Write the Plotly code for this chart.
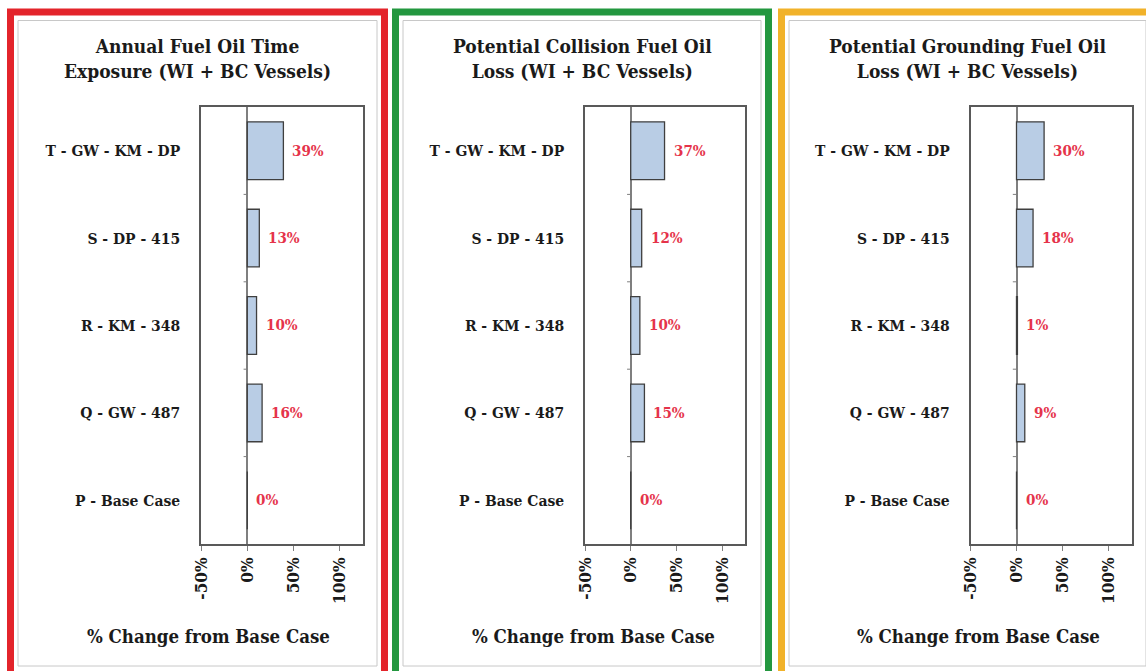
import plotly.graph_objects as go

categories = ["P - Base Case", "Q - GW - 487", "R - KM - 348", "S - DP - 415", "T - GW - KM - DP"]
exposure = [0, 16, 10, 13, 39]
collision = [0, 15, 10, 12, 37]
grounding = [0, 9, 1, 18, 30]
titles = ["Annual Fuel Oil Time<br>Exposure (WI + BC Vessels)",
          "Potential Collision Fuel Oil<br>Loss (WI + BC Vessels)",
          "Potential Grounding Fuel Oil<br>Loss (WI + BC Vessels)"]
x_title = "% Change from Base Case"
x_ticks = [-50, 0, 50, 100]
x_ticktext = ["-50%", "0%", "50%", "100%"]

W, H = 1146, 671
FONT = "DejaVu Serif Condensed, DejaVu Serif, serif"

def px(v):
    return v / W

def py(v):
    return 1 - v / H

series = [exposure, collision, grounding]
plot_x = [(201, 363), (585, 745), (970.5, 1131.5)]
panel_x = [(7, 388), (392, 772), (778, 1157)]
panel_colors = ["#e3242b", "#23973f", "#f1b22a"]
y_dom = [py(544), py(107)]

fig = go.Figure()
shapes = []
annotations = []

for i, vals in enumerate(series):
    xa = "x" if i == 0 else f"x{i+1}"
    ya = "y" if i == 0 else f"y{i+1}"
    fig.add_trace(go.Bar(
        x=vals, y=categories, orientation="h", width=0.66,
        marker=dict(color="#b9cde5", line=dict(color="#3f3f3f", width=1.3)),
        xaxis=xa, yaxis=ya, showlegend=False, hoverinfo="x+y"))
    for c, v in zip(categories, vals):
        annotations.append(dict(
            x=v, y=c, xref=xa, yref=ya, text=f"{v}%", showarrow=False,
            xanchor="left", yanchor="middle", xshift=7,
            font=dict(family=FONT, size=15, color="#e5334a", weight="bold")))
    axkw = dict(
        domain=[px(plot_x[i][0]), px(plot_x[i][1])], range=[-50, 125],
        tickvals=x_ticks, ticktext=x_ticktext, tickangle=-90,
        ticks="outside", ticklen=5, tickcolor="#7f7f7f",
        showline=True, linecolor="#595959", linewidth=1.5, mirror=True,
        showgrid=False, zeroline=True, zerolinecolor="#7f7f7f", zerolinewidth=2,
        tickfont=dict(family=FONT, size=17, color="#1a1a1a", weight="bold"),
        anchor=ya, fixedrange=True, automargin=False)
    ykw = dict(
        domain=y_dom, categoryorder="array", categoryarray=categories,
        range=[-0.5, len(categories) - 0.5],
        showline=True, linecolor="#595959", linewidth=1.5, mirror=True,
        showgrid=False, ticks="", ticklabelstandoff=16,
        tickfont=dict(family=FONT, size=15.5, color="#1a1a1a", weight="bold"),
        anchor=xa, fixedrange=True, automargin=False)
    fig.update_layout(**{("xaxis" if i == 0 else f"xaxis{i+1}"): axkw,
                         ("yaxis" if i == 0 else f"yaxis{i+1}"): ykw})
    # small tick marks on the zero line at category boundaries
    for k in range(len(categories) - 1):
        shapes.append(dict(type="line", xref=xa, yref=ya, x0=-4, x1=0,
                           y0=k + 0.5, y1=k + 0.5,
                           line=dict(color="#7f7f7f", width=1)))
    # panel frame
    x0, x1 = panel_x[i]
    shapes.append(dict(type="rect", xref="paper", yref="paper",
                       x0=px(x0 + 3.5), x1=px(x1 - 3.5), y0=py(680), y1=py(12),
                       line=dict(color=panel_colors[i], width=7)))
    shapes.append(dict(type="rect", xref="paper", yref="paper",
                       x0=px(x0 + 11), x1=px(x1 - 11), y0=py(666), y1=py(20.5),
                       line=dict(color="#c8c8c8", width=1)))
    cx = (x0 + x1) / 2
    annotations.append(dict(
        x=px(cx), y=py(58.5), xref="paper", yref="paper", text=titles[i],
        showarrow=False, xanchor="center", yanchor="middle",
        font=dict(family=FONT, size=19, color="#1a1a1a", weight="bold")))
    annotations.append(dict(
        x=px(cx + 11), y=py(636), xref="paper", yref="paper", text=x_title,
        showarrow=False, xanchor="center", yanchor="middle",
        font=dict(family=FONT, size=18.5, color="#1a1a1a", weight="bold")))

fig.update_layout(
    width=W, height=H, margin=dict(l=0, r=0, t=0, b=0, autoexpand=False),
    paper_bgcolor="white", plot_bgcolor="white",
    shapes=shapes, annotations=annotations)

fig.write_html("out.html", config={"displayModeBar": False},
               post_script="document.body.style.margin='0';document.body.style.overflow='hidden';")
